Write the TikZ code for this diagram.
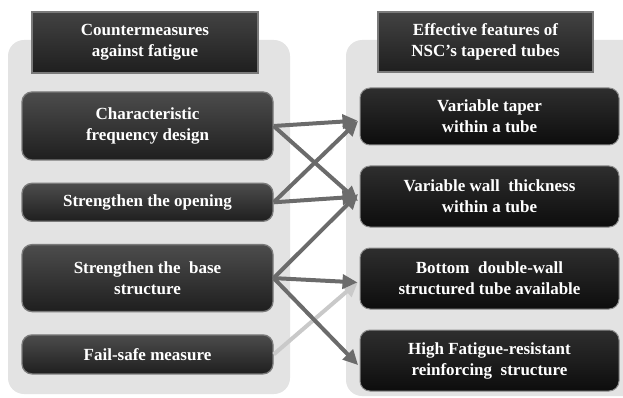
\documentclass[tikz,border=0pt]{standalone}
\usepackage{fontspec}
\setmainfont{Liberation Serif}
\usetikzlibrary{positioning, arrows.meta}
\definecolor{panelGrey}{HTML}{E3E3E3}
\definecolor{boxLine}{HTML}{7A7A7A}
\definecolor{linkDark}{HTML}{6B6B6B}
\definecolor{linkLight}{HTML}{C9C9C9}

\begin{document}
\begin{tikzpicture}[
        x=1pt, y=-1pt,
        node distance=22pt,
        txt/.style={text=white, align=center, inner sep=0pt,
            font=\fontsize{17}{21}\selectfont\bfseries},
        head/.style={txt, rectangle, draw=boxLine, line width=1.5pt,
            top color=black!74, bottom color=black!88},
        cause/.style={txt, rectangle, draw=boxLine, line width=1.3pt,
            rounded corners=10pt, minimum width=251pt,
            top color=black!70, bottom color=black!88},
        feature/.style={txt, rectangle, draw=black!45, line width=1pt,
            rounded corners=10pt, minimum width=259pt,
            top color=black!82, bottom color=black!95},
        panel/.style={fill=panelGrey, rounded corners=16pt},
        link/.style={-{Triangle[length=15pt, width=14pt]}, line width=4pt,
            draw=linkDark, shorten >=2pt},
        ]
        \useasboundingbox (0,0) rectangle (623,398);

        % Grey panels behind the two columns
        \fill[panel] (8,40) rectangle (290,394);
        \fill[panel] (346,40) rectangle (650,396);

        % Left column: countermeasures
        \node[head, minimum width=226pt, minimum height=61pt] (lhead) at (145,42.5)
        {Countermeasures\\against fatigue};

        \node[cause, minimum height=68pt] (freq) at (147.5,126)
        {Characteristic\\frequency design};
        \node[cause, minimum height=38pt, below=of freq] (open)
        {Strengthen the opening};
        \node[cause, minimum height=67pt, below=of open] (base)
        {Strengthen the\ \ base\\structure};
        \node[cause, minimum height=39pt, below=of base] (safe)
        {Fail-safe measure};

        % Right column: tube features
        \node[head, minimum width=215pt, minimum height=60pt] (rhead) at (485.5,42)
        {Effective features of\\NSC's tapered tubes};

        \node[feature, minimum height=57pt] (taper) at (489.5,116.5)
        {Variable taper\\within a tube};
        \node[feature, minimum height=61pt, below=20pt of taper] (wall)
        {Variable wall\ \ thickness\\within a tube};
        \node[feature, minimum height=61pt, below=20pt of wall] (double)
        {Bottom\ \ double-wall\\structured tube available};
        \node[feature, minimum height=61pt, below=20pt of double] (reinf)
        {High Fatigue-resistant\\reinforcing\ \ structure};

        % Links
        \draw[link, draw=linkLight] (safe.east) -- ([yshift=-2pt]double.west);
        \draw[link] (freq.east) -- ([yshift=-4pt]taper.west);
        \draw[link] (freq.east) -- ([yshift=-6pt]wall.west);
        \draw[link] (open.east) -- ([yshift=-3pt]taper.west);
        \draw[link] (open.east) -- ([yshift=0pt]wall.west);
        \draw[link] (base.east) -- ([yshift=4pt]wall.west);
        \draw[link] (base.east) -- ([yshift=-4pt]double.west);
        \draw[link] (base.east) -- ([yshift=-6pt]reinf.west);
    \end{tikzpicture}
\end{document}
